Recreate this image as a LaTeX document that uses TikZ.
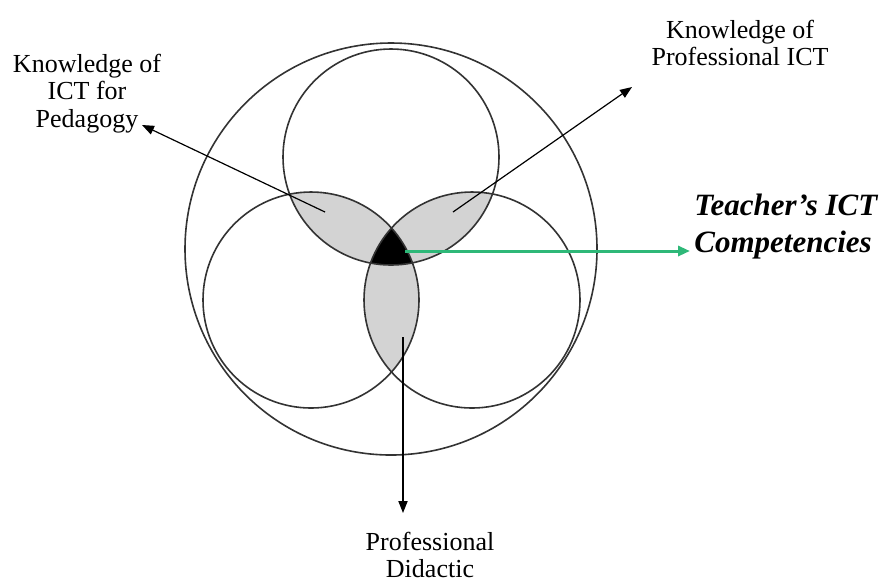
\documentclass[tikz,border=0pt]{standalone}
\usepackage{fontspec}
\setmainfont{Liberation Serif}
\usetikzlibrary{arrows.meta, positioning}

\definecolor{lensgrey}{RGB}{211,211,211}
\definecolor{arrowgreen}{RGB}{46,184,120}

\begin{document}
\begin{tikzpicture}[x=0.5pt, y=-0.5pt,
    ring/.style={draw=black!80, line width=0.8pt},
    pointer/.style={-{Triangle[length=6pt,width=4.6pt]}, line width=0.6pt},
    desc/.style={align=center, inner sep=0pt, font=\fontsize{13}{13.6}\selectfont},
  ]
  \useasboundingbox (0,0) rectangle (887,586);
  % circle centres
  \coordinate (couter) at (391,249);
  \coordinate (ctop) at (391,157);
  \coordinate (cleft) at (311,300);
  \coordinate (cright) at (472,300);
  \def\rad{108}

  % pairwise overlaps
  \begin{scope}
    \clip (ctop) circle (\rad);
    \fill[lensgrey] (cleft) circle (\rad);
    \fill[lensgrey] (cright) circle (\rad);
  \end{scope}
  \begin{scope}
    \clip (cleft) circle (\rad);
    \fill[lensgrey] (cright) circle (\rad);
  \end{scope}
  % common core
  \begin{scope}
    \clip (ctop) circle (\rad);
    \clip (cleft) circle (\rad);
    \fill[black] (cright) circle (\rad);
  \end{scope}

  % outlines
  \draw[ring] (couter) circle (206);
  \foreach \c in {ctop, cleft, cright} {
    \draw[ring] (\c) circle (\rad);
  }

  % texts
  \node[desc, anchor=north] (ped) at (87,54) {Knowledge of\\ICT for\\Pedagogy};
  \node[desc, anchor=north] (prof) at (740,20) {Knowledge of\\Professional ICT};
  \node[desc, anchor=north] (didactic) at (430,532) {Professional\\Didactic};
  \node[anchor=north west, inner sep=0pt, align=left,
        font=\bfseries\itshape\fontsize{15.5}{18.5}\selectfont] (comp) at (694,194)
        {Teacher's ICT\\Competencies};

  % arrows
  \coordinate (pedtail) at (325,212);
  \coordinate (pedhead) at (142,125);
  \coordinate (proftail) at (453,212);
  \coordinate (profhead) at (632,87);
  \coordinate (didtail) at (403,337);
  \coordinate (didhead) at (403,513);
  \coordinate (comptail) at (405,251);
  \coordinate (comphead) at (690,251);
  \draw[pointer] (pedtail) -- (pedhead);
  \draw[pointer] (proftail) -- (profhead);
  \draw[pointer] (didtail) -- (didhead);
  \draw[arrowgreen, line width=1.5pt, -{Triangle[length=6pt,width=5pt]}] (comptail) -- (comphead);
\end{tikzpicture}
\end{document}
